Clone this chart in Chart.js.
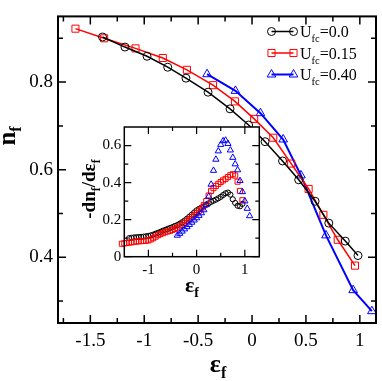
<!DOCTYPE html>
<html>
<head>
<meta charset="utf-8">
<script src="https://cdn.jsdelivr.net/npm/chart.js@4.4.0/dist/chart.umd.min.js"></script>
<style>
  html, body { margin: 0; padding: 0; background: #fff; }
  #wrap { position: relative; width: 382px; height: 381px; }
  #mainChart { position: absolute; left: 0; top: 0; }
  #insetChart { position: absolute; left: 70px; top: 115px; }
</style>
</head>
<body>
<div id="wrap">
  <canvas id="mainChart" width="382" height="381"></canvas>
  <canvas id="insetChart" width="195" height="190"></canvas>
</div>
<script>
// Main panel: n_f vs eps_f for three U_fc values
const ufcLabels = ['0.0', '0.15', '0.40'];

const mainX0 = [-1.387, -1.179, -0.974, -0.782, -0.613, -0.408, -0.204, -0.032, 0.121, 0.283, 0.433, 0.585, 0.712, 0.865, 0.983];
const mainY0 = [0.903, 0.880, 0.859, 0.834, 0.809, 0.777, 0.739, 0.702, 0.664, 0.620, 0.577, 0.528, 0.478, 0.437, 0.404];

const mainX15 = [-1.638, -1.372, -1.081, -0.828, -0.604, -0.362, -0.158, 0.020, 0.197, 0.363, 0.525, 0.662, 0.795, 0.955];
const mainY15 = [0.922, 0.900, 0.877, 0.855, 0.828, 0.793, 0.756, 0.716, 0.673, 0.614, 0.556, 0.497, 0.440, 0.381];

const mainX40 = [-0.417, -0.154, 0.078, 0.289, 0.454, 0.686, 0.938, 1.112];
const mainY40 = [0.818, 0.780, 0.729, 0.669, 0.587, 0.450, 0.325, 0.277];

// Inset: -dn_f/deps_f
const insetX0 = [-1.40, -1.35, -1.30, -1.25, -1.20, -1.15, -1.10, -1.05, -1.00, -0.95, -0.90, -0.85, -0.80, -0.75, -0.70, -0.65,
  -0.60, -0.55, -0.50, -0.45, -0.40, -0.35, -0.30, -0.25, -0.20, -0.15, -0.10, -0.05, 0.00, 0.05, 0.10, 0.15,
  0.20, 0.25, 0.30, 0.35, 0.40, 0.45, 0.50, 0.55, 0.60, 0.65, 0.70, 0.75, 0.80, 0.85, 0.90, 0.95];
const insetY0 = [0.100, 0.102, 0.104, 0.105, 0.106, 0.107, 0.108, 0.110, 0.112, 0.115, 0.119, 0.124, 0.129, 0.134, 0.140, 0.145,
  0.150, 0.155, 0.160, 0.166, 0.171, 0.178, 0.186, 0.195, 0.205, 0.216, 0.227, 0.239, 0.250, 0.258, 0.265, 0.272,
  0.280, 0.288, 0.296, 0.302, 0.308, 0.315, 0.323, 0.333, 0.342, 0.346, 0.335, 0.310, 0.290, 0.275, 0.272, 0.285];

const insetX15 = [-1.55, -1.50, -1.45, -1.40, -1.35, -1.30, -1.25, -1.20, -1.15, -1.10, -1.05, -1.00, -0.95, -0.90, -0.85, -0.80, -0.75,
  -0.70, -0.65, -0.60, -0.55, -0.50, -0.45, -0.40, -0.35, -0.30, -0.25, -0.20, -0.15, -0.10, -0.05, 0.00, 0.05, 0.10,
  0.15, 0.20, 0.25, 0.30, 0.35, 0.40, 0.45, 0.50, 0.55, 0.60, 0.65, 0.70, 0.75, 0.80, 0.85, 0.90, 0.95];
const insetY15 = [0.070, 0.072, 0.074, 0.076, 0.078, 0.080, 0.082, 0.083, 0.084, 0.085, 0.086, 0.088, 0.093, 0.100, 0.108, 0.116, 0.122,
  0.127, 0.132, 0.136, 0.140, 0.145, 0.150, 0.156, 0.163, 0.172, 0.182, 0.192, 0.202, 0.213, 0.224, 0.236, 0.248, 0.260,
  0.278, 0.300, 0.330, 0.355, 0.370, 0.382, 0.393, 0.403, 0.412, 0.420, 0.430, 0.440, 0.445, 0.438, 0.405, 0.355, 0.305];

const insetX40 = [-0.40, -0.35, -0.30, -0.25, -0.20, -0.15, -0.10, -0.05, 0.00, 0.05, 0.10, 0.15, 0.20, 0.25, 0.30, 0.35,
  0.40, 0.45, 0.50, 0.55, 0.60, 0.65, 0.70, 0.75, 0.80, 0.85, 0.90, 0.95, 1.00, 1.05, 1.10];
const insetY40 = [0.115, 0.125, 0.137, 0.149, 0.161, 0.173, 0.185, 0.197, 0.209, 0.222, 0.236, 0.252, 0.280, 0.325, 0.390, 0.465,
  0.525, 0.570, 0.605, 0.625, 0.628, 0.610, 0.575, 0.535, 0.500, 0.468, 0.410, 0.350, 0.300, 0.260, 0.220];

// Tick positions
const mainXTicks = [-1.5, -1, -0.5, 0, 0.5, 1];
const mainXMinor = [-1.75, -1.25, -0.75, -0.25, 0.25, 0.75];
const mainYTicks = [0.4, 0.6, 0.8];
const mainYMinor = [0.3, 0.5, 0.7, 0.9];
const insetXTicks = [-1, 0, 1];
const insetXMinor = [-0.5, 0.5];
const insetYTicks = [0, 0.2, 0.4, 0.6];
const insetYMinor = [0.1, 0.3, 0.5];

const colors = ['#000000', '#ff0000', '#0000ff'];
const styles = ['circle', 'rect', 'triangle'];
const SERIF = '"Liberation Serif", "Times New Roman", serif';

function toPoints(xs, ys) {
    return xs.map((x, i) => ({ x: x, y: ys[i] }));
}

// text with subscripts, parts = [[text, isSub], ...]
function drawRich(ctx, parts, x, y, opt) {
    const font = s => (opt.bold ? 'bold ' : '') + s + 'px ' + SERIF;
    let w = 0;
    parts.forEach(p => { ctx.font = font(p[1] ? opt.sub : opt.size); w += ctx.measureText(p[0]).width; });
    let cx = opt.align === 'center' ? x - w / 2 : x;
    ctx.textAlign = 'left';
    ctx.textBaseline = 'alphabetic';
    parts.forEach(p => {
        ctx.font = font(p[1] ? opt.sub : opt.size);
        ctx.fillText(p[0], cx, p[1] ? y + opt.shift : y);
        cx += ctx.measureText(p[0]).width;
    });
}

function drawMarker(ctx, style, x, y, r) {
    ctx.beginPath();
    if (style === 'circle') {
        ctx.arc(x, y, r, 0, Math.PI * 2);
    } else if (style === 'rect') {
        const s = r * Math.SQRT1_2;
        ctx.rect(x - s, y - s, 2 * s, 2 * s);
    } else {
        ctx.moveTo(x, y - r);
        ctx.lineTo(x + r * Math.sin(2 * Math.PI / 3), y + r / 2);
        ctx.lineTo(x - r * Math.sin(2 * Math.PI / 3), y + r / 2);
        ctx.closePath();
    }
    ctx.stroke();
}

// frame + inward ticks (xmgrace look)
const frameTicks = {
    id: 'frameTicks',
    beforeDatasetsDraw(chart, args, o) {
        const { ctx, chartArea: a } = chart;
        if (o.fill) {
            ctx.save();
            ctx.fillStyle = '#fff';
            ctx.fillRect(a.left, a.top, a.right - a.left, a.bottom - a.top);
            ctx.restore();
        }
    },
    afterDraw(chart, args, o) {
        const { ctx, chartArea: a, scales } = chart;
        ctx.save();
        ctx.strokeStyle = '#000';
        ctx.lineWidth = o.tickWidth;
        ctx.beginPath();
        const xt = (vals, len) => vals.forEach(v => {
            const px = scales.x.getPixelForValue(v);
            ctx.moveTo(px, a.bottom); ctx.lineTo(px, a.bottom - len);
            ctx.moveTo(px, a.top); ctx.lineTo(px, a.top + len);
        });
        const yt = (vals, len) => vals.forEach(v => {
            const py = scales.y.getPixelForValue(v);
            ctx.moveTo(a.left, py); ctx.lineTo(a.left + len, py);
            ctx.moveTo(a.right, py); ctx.lineTo(a.right - len, py);
        });
        xt(o.xMajor, o.major); xt(o.xMinor, o.minor);
        yt(o.yMajor, o.major); yt(o.yMinor, o.minor);
        ctx.stroke();
        ctx.lineWidth = o.frameWidth;
        ctx.strokeRect(a.left, a.top, a.right - a.left, a.bottom - a.top);
        ctx.restore();
    }
};

// axis titles drawn with subscripts
const axisTitles = {
    id: 'axisTitles',
    afterDraw(chart, args, o) {
        const ctx = chart.ctx;
        ctx.save();
        ctx.fillStyle = '#000';
        drawRich(ctx, o.xParts, o.xPos[0], o.xPos[1], o.xFont);
        ctx.translate(o.yPos[0], o.yPos[1]);
        ctx.rotate(-Math.PI / 2);
        drawRich(ctx, o.yParts, 0, 0, o.yFont);
        ctx.restore();
    }
};

// legend: line with a marker at both ends, then U_fc=...
const ufcLegend = {
    id: 'ufcLegend',
    afterDraw(chart) {
        const ctx = chart.ctx;
        ctx.save();
        ufcLabels.forEach((lab, i) => {
            const y = 31.5 + i * 21.5;
            ctx.strokeStyle = colors[i];
            ctx.lineWidth = i === 2 ? 2 : 1.5;
            ctx.beginPath();
            ctx.moveTo(271.5, y); ctx.lineTo(293.5, y);
            ctx.stroke();
            ctx.lineWidth = 1;
            drawMarker(ctx, styles[i], 271.5, y, i === 0 ? 4 : 5);
            drawMarker(ctx, styles[i], 293.5, y, i === 0 ? 4 : 5);
            ctx.fillStyle = '#000';
            drawRich(ctx, [['U', false], ['fc', true], ['=' + lab, false]], 300, y + 5.5,
                { size: 16, sub: 10.5, shift: 5, bold: false });
        });
        ctx.restore();
    }
};

function axis(min, max, ticks, size, padding, fit, isX) {
    return {
        type: 'linear', min: min, max: max,
        grid: { display: false, drawTicks: false },
        border: { display: false },
        afterBuildTicks: s => { s.ticks = ticks.map(v => ({ value: v })); },
        afterFit: s => { if (isX) { s.height = fit; } else { s.width = fit; } },
        ticks: {
            color: '#000', padding: padding, autoSkip: false, maxRotation: 0,
            font: { family: SERIF, size: size },
            callback: v => String(v)
        }
    };
}

function renderMain() {
    const sets = [[mainX0, mainY0], [mainX15, mainY15], [mainX40, mainY40]];
    new Chart(document.getElementById('mainChart'), {
        type: 'line',
        data: {
            datasets: sets.map((s, i) => ({
                label: 'Ufc=' + ufcLabels[i],
                data: toPoints(s[0], s[1]),
                borderColor: colors[i],
                borderWidth: i === 2 ? 2 : 1.5,
                pointStyle: styles[i],
                pointRadius: i === 0 ? 4 : 5,
                pointBorderWidth: 1,
                pointBorderColor: colors[i],
                pointBackgroundColor: 'rgba(0,0,0,0)',
                tension: 0,
                clip: false
            }))
        },
        options: {
            responsive: false,
            animation: false,
            devicePixelRatio: 1,
            layout: { padding: { top: 2.5, right: 3, left: 0, bottom: 0 } },
            plugins: {
                legend: { display: false },
                tooltip: { enabled: false },
                frameTicks: {
                    xMajor: mainXTicks, xMinor: mainXMinor, yMajor: mainYTicks, yMinor: mainYMinor,
                    major: 8, minor: 5, tickWidth: 1.5, frameWidth: 2
                },
                axisTitles: {
                    xParts: [['ε', false], ['f', true]], xPos: [218, 372],
                    xFont: { size: 26, sub: 16, shift: 6, bold: true, align: 'center' },
                    yParts: [['n', false], ['f', true]], yPos: [15, 136],
                    yFont: { size: 25, sub: 16, shift: 6, bold: true, align: 'center' }
                }
            },
            scales: {
                x: axis(-1.8, 1.15, mainXTicks, 19, 7, 58, true),
                y: axis(0.25, 0.95, mainYTicks, 19, 5, 58, false)
            }
        },
        plugins: [frameTicks, axisTitles, ufcLegend]
    });
}

function renderInset() {
    const sets = [[insetX40, insetY40, 2], [insetX15, insetY15, 1], [insetX0, insetY0, 0]];
    new Chart(document.getElementById('insetChart'), {
        type: 'line',
        data: {
            datasets: sets.map(s => ({
                label: 'Ufc=' + ufcLabels[s[2]],
                data: toPoints(s[0], s[1]),
                showLine: false,
                pointStyle: styles[s[2]],
                pointRadius: s[2] === 0 ? 2.6 : 3.6,
                pointBorderWidth: 1,
                pointBorderColor: colors[s[2]],
                pointBackgroundColor: 'rgba(0,0,0,0)',
                clip: false
            }))
        },
        options: {
            responsive: false,
            animation: false,
            devicePixelRatio: 1,
            layout: { padding: { top: 9.3, right: 5.7, left: 0, bottom: 0 } },
            plugins: {
                legend: { display: false },
                tooltip: { enabled: false },
                frameTicks: {
                    fill: true,
                    xMajor: insetXTicks, xMinor: insetXMinor, yMajor: insetYTicks, yMinor: insetYMinor,
                    major: 7, minor: 4, tickWidth: 1.2, frameWidth: 1.5
                },
                axisTitles: {
                    xParts: [['ε', false], ['f', true]], xPos: [122, 177],
                    xFont: { size: 22, sub: 14, shift: 5, bold: true, align: 'center' },
                    yParts: [['-dn', false], ['f', true], ['/dε', false], ['f', true]], yPos: [25, 74],
                    yFont: { size: 19, sub: 12, shift: 5, bold: true, align: 'center' }
                }
            },
            scales: {
                x: axis(-1.5, 1.3, insetXTicks, 15, 4, 48.3, true),
                y: axis(0, 0.7, insetYTicks, 15, 3, 54.3, false)
            }
        },
        plugins: [frameTicks, axisTitles]
    });
}

function init() {
    renderMain();
    renderInset();
}

document.addEventListener('DOMContentLoaded', init);
</script>
</body>
</html>
